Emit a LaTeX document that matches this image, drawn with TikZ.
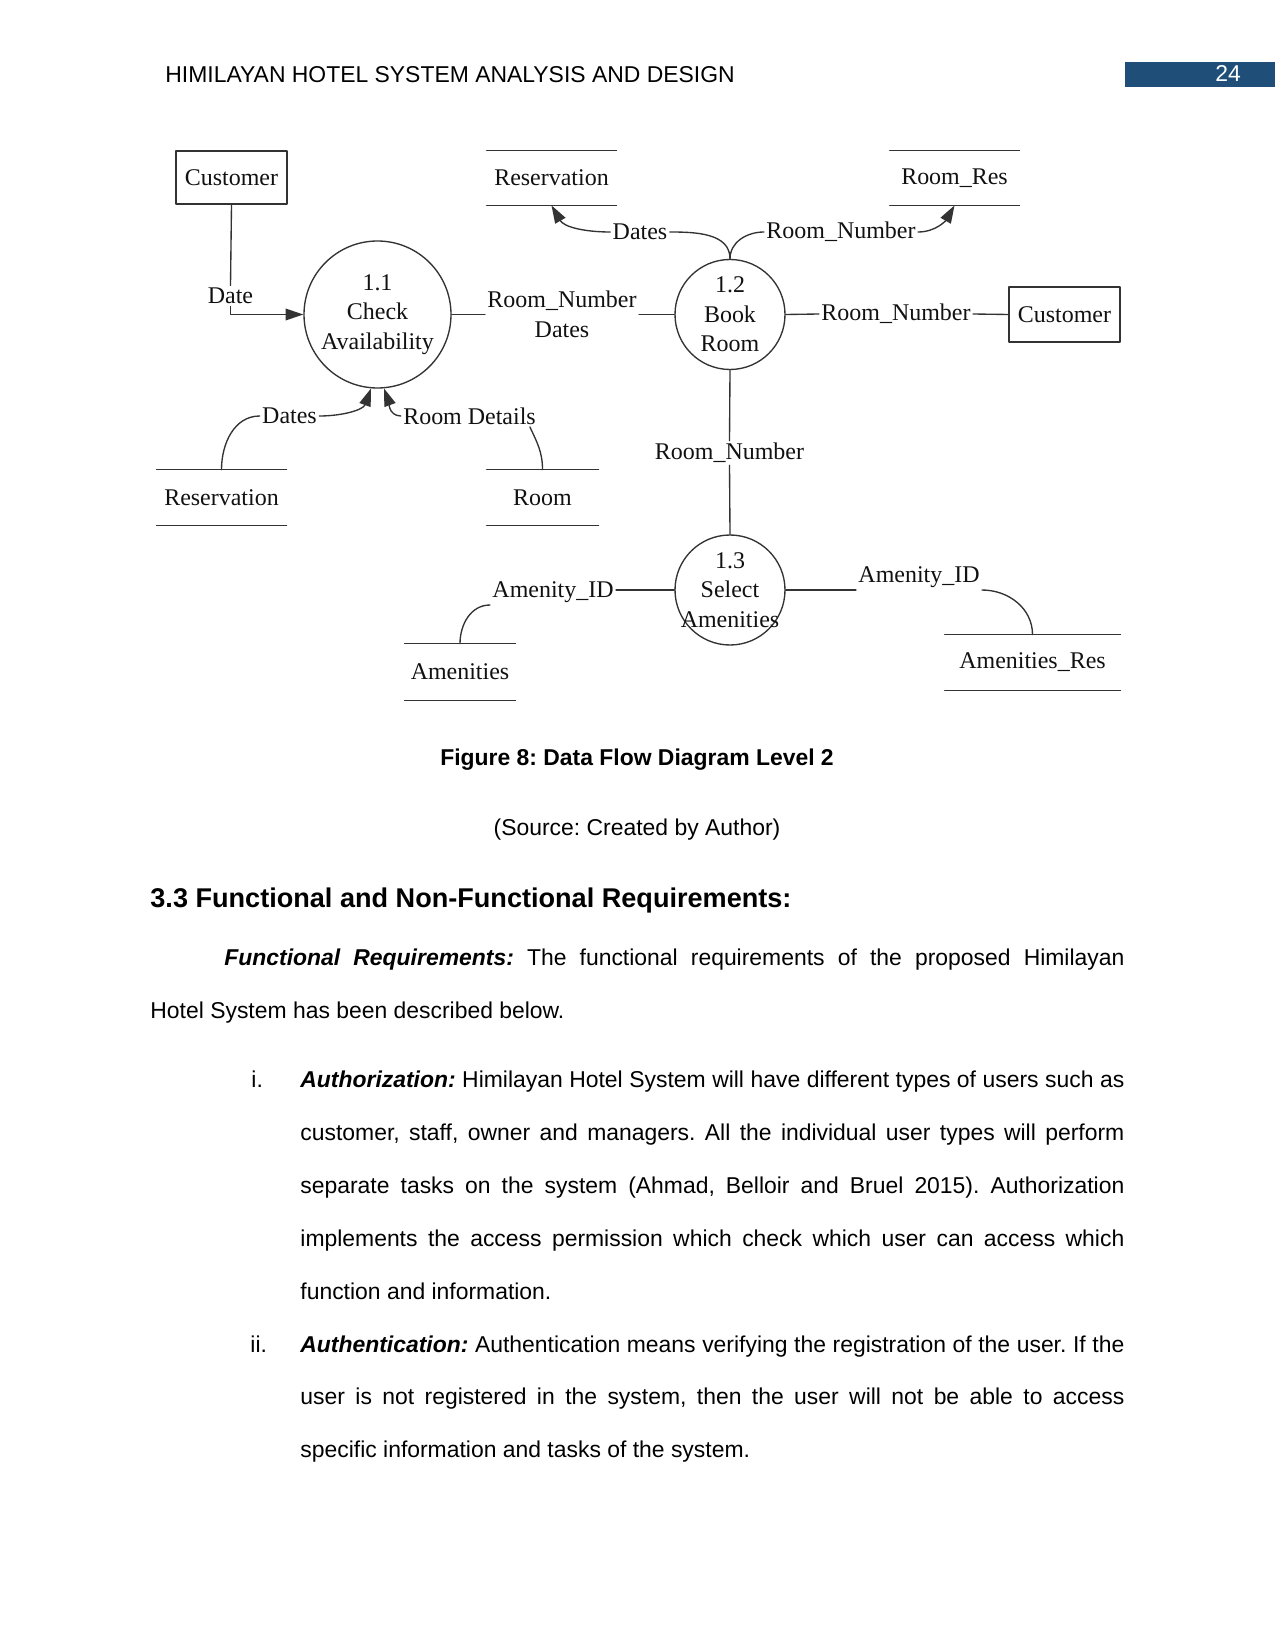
\documentclass[tikz,border=0pt]{standalone}
\usepackage{fontspec}
\setmainfont{Liberation Sans}
\newfontfamily\dfdserif{Liberation Serif}
\usepackage{xcolor}
\definecolor{hhblue}{HTML}{1F4E79}
\definecolor{hhline}{HTML}{333333}
\definecolor{hhtext}{HTML}{111111}
\usepackage{tikz}
\usetikzlibrary{arrows.meta,positioning}
\frenchspacing
\newcommand{\px}{0.48pt}
\newlength{\parw}\setlength{\parw}{432pt}
\newlength{\listw}\setlength{\listw}{395.5pt}
\tikzset{
  >={Triangle[length=8.5pt,width=5.6pt]},
  every picture/.style={line cap=round, line join=round},
  dfdtxt/.style={font=\dfdserif\fontsize{11.5}{14.2}\selectfont, text=hhtext, inner sep=1pt},
  flow/.style={hhline, line width=0.65pt},
  entity/.style={dfdtxt, draw=hhline, line width=0.65pt, inner sep=0pt},
  proc/.style={dfdtxt, circle, draw=hhline, line width=0.65pt, inner sep=0pt, align=center},
  store/.style={dfdtxt, inner sep=0pt, append after command={
      (\tikzlastnode.north west) edge[flow] (\tikzlastnode.north east)
      (\tikzlastnode.south west) edge[flow] (\tikzlastnode.south east)}},
  pagetxt/.style={font=\fontsize{11}{13}\selectfont, inner sep=0pt, anchor=base west},
}

\begin{document}
\begin{tikzpicture}[x=0.48pt, y=-0.48pt]
\useasboundingbox (0,0) rectangle (1275,1650);
% running head
\node[pagetxt] (head) at (165,83) {HIMILAYAN HOTEL SYSTEM ANALYSIS AND DESIGN};
\fill[hhblue] (1125,62) rectangle (1275,87);
\node[pagetxt, anchor=base, text=white] (pgno) at (1228,82) {24};

% external entities and processes
\node[entity, minimum width={111*\px}, minimum height={53*\px}] (cust1) at (231.5,177.5) {Customer};
\node[entity, minimum width={111*\px}, minimum height={55*\px}] (cust2) at (1064.5,314.5) {Customer};
\node[proc, minimum size={147*\px}] (p11) at (377.5,314.5) {1.1\\Check\\Availability};
\node[proc, minimum size={110*\px}] (p12) at (730,314.5) {1.2\\Book\\Room};
\node[proc, minimum size={110*\px}, inner sep=-12pt] (p13) at (730,590) {1.3\\Select\\Amenities};

% data stores
\node[store, minimum width={129*\px}, minimum height={54*\px}] (resvA) at (551.5,178) {Reservation};
\node[store, minimum width={129*\px}, minimum height={54*\px}] (roomRes) at (954.5,178) {Room\_Res};
\node[store, minimum width={129*\px}, minimum height={55*\px}] (resvB) at (221.5,497.5) {Reservation};
\node[store, minimum width={111*\px}, minimum height={55*\px}] (room) at (542.5,497.5) {Room};
\node[store, minimum width={110*\px}, minimum height={56*\px}] (amen) at (460,672) {Amenities};
\node[store, minimum width={175*\px}, minimum height={55*\px}] (amenRes) at (1032.5,662.5) {Amenities\_Res};

% flow labels
\node[dfdtxt] (lDate) at (230.5,296) {Date};
\node[dfdtxt, align=center] (lRN1) at (562,314.5) {Room\_Number\\Dates};
\node[dfdtxt] (lRN2) at (896,314) {Room\_Number};
\node[dfdtxt] (lDatesT) at (640,232) {Dates};
\node[dfdtxt] (lRNT) at (841,232) {Room\_Number};
\node[dfdtxt] (lDatesB) at (289.5,416) {Dates};
\node[dfdtxt] (lRD) at (469.5,416) {Room Details};
\node[dfdtxt] (lRN4) at (729.5,453) {Room\_Number};
\node[dfdtxt] (lAIDL) at (553,592) {Amenity\_ID};
\node[dfdtxt] (lAIDR) at (919,577) {Amenity\_ID};

% flows
\draw[flow] (cust1.south) -- (lDate.north);
\draw[flow,->] (lDate.south) |- (p11.west);
\draw[flow] (p11.east) -- (lRN1.west |- p11.east);
\draw[flow] (lRN1.east |- p12.west) -- (p12.west);
\draw[flow] (p12.east) -- (lRN2.west);
\draw[flow] (lRN2.east) -- (cust2.west);
\draw[flow] (p12.north) to[out=90,in=0] (lDatesT.east);
\draw[flow,->] (lDatesT.west) to[out=180,in=-60] (resvA.south);
\draw[flow] (p12.north) to[out=90,in=180] (lRNT.west);
\draw[flow,->] (lRNT.east) to[out=0,in=-120] (roomRes.south);
\draw[flow] (lDatesB.west) to[out=180,in=90] (resvB.north);
\draw[flow,->] (lDatesB.east) to[out=0,in=-110] (p11.-95);
\draw[flow,->] (lRD.west) to[out=180,in=-70] (p11.-85);
\draw[flow] ([xshift=-4pt]lRD.south east) to[out=-65,in=90] (room.north);
\draw[flow] (p12.south) -- (lRN4.north);
\draw[flow] (lRN4.south) -- (p13.north);
\draw[flow] (p13.west) -- (lAIDL.east |- p13.west);
\draw[flow] (lAIDL.south west) to[out=180,in=90] (amen.north);
\draw[flow] (p13.east) -- (p13.east -| lAIDR.west);
\draw[flow] (lAIDR.south east) to[out=0,in=90] (amenRes.north);

% caption and body text
\node[pagetxt, anchor=base, font=\fontsize{11}{13}\selectfont\bfseries] (cap) at (637,765) {Figure 8: Data Flow Diagram Level 2};
\node[pagetxt, anchor=base] (src) at (637,835) {(Source: Created by Author)};
\node[pagetxt, font=\fontsize{13}{15}\selectfont\bfseries] (sec) at (150,907) {3.3 Functional and Non-Functional Requirements:};
\node[pagetxt] (par1) at (224,965) {\makebox[\parw][s]{\textbf{\textit{Functional Requirements:}} The functional requirements of the proposed Himilayan}};
\node[pagetxt] (par2) at (150,1018) {Hotel System has been described below.};
\node[pagetxt] (numi) at (251,1087) {i.};
\node[pagetxt] (li1) at (300,1087) {\makebox[\listw][s]{\textbf{\textit{Authorization:}} Himilayan Hotel System will have different types of users such as}};
\node[pagetxt] (li2) at (300,1140) {\makebox[\listw][s]{customer, staff, owner and managers. All the individual user types will perform}};
\node[pagetxt] (li3) at (300,1193) {\makebox[\listw][s]{separate tasks on the system (Ahmad, Belloir and Bruel 2015). Authorization}};
\node[pagetxt] (li4) at (300,1246) {\makebox[\listw][s]{implements the access permission which check which user can access which}};
\node[pagetxt] (li5) at (300,1299) {function and information.};
\node[pagetxt] (numii) at (250,1352) {ii.};
\node[pagetxt] (lii1) at (300,1352) {\makebox[\listw][s]{\textbf{\textit{Authentication:}} Authentication means verifying the registration of the user. If the}};
\node[pagetxt] (lii2) at (300,1404) {\makebox[\listw][s]{user is not registered in the system, then the user will not be able to access}};
\node[pagetxt] (lii3) at (300,1457) {specific information and tasks of the system.};
\end{tikzpicture}
\end{document}
